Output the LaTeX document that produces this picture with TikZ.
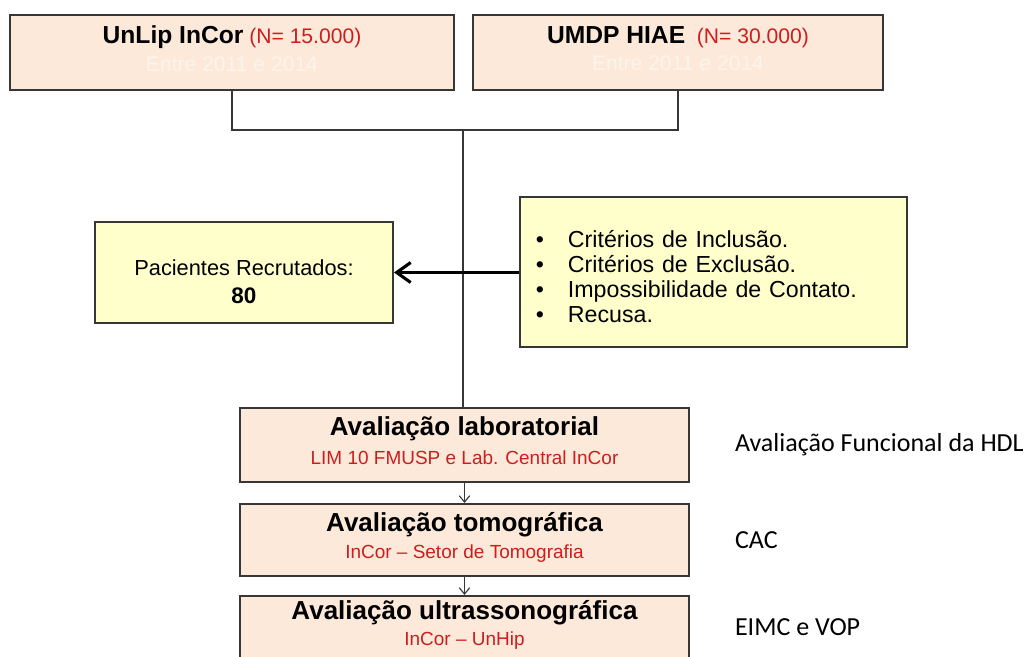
\documentclass[tikz,border=0pt]{standalone}
\usepackage{fontspec}
\setmainfont{Liberation Sans}
\newfontfamily\calib{Carlito}
\usetikzlibrary{positioning, arrows.meta}
\definecolor{peach}{RGB}{252,233,218}
\definecolor{paleyellow}{RGB}{255,255,204}
\definecolor{darkred}{RGB}{204,30,30}
\definecolor{edge}{RGB}{55,55,55}

\begin{document}
\begin{tikzpicture}[
  x=0.025cm, y=-0.025cm,
  srcbox/.style={draw=edge, line width=1.4pt, fill=peach, minimum height=1.875cm, align=center, inner sep=0pt,
    text depth=0.2cm, font=\fontsize{15}{19.5}\selectfont},
  stepbox/.style={draw=edge, line width=1.4pt, fill=peach, minimum width=11.225cm, minimum height=1.85cm, align=center, inner sep=0pt,
    text depth=0.22cm, font=\fontsize{13.5}{20}\selectfont},
  yelbox/.style={draw=edge, line width=1.4pt, fill=paleyellow},
  conn/.style={draw=edge, line width=1.3pt},
  side/.style={font=\calib\fontsize{18.5}{22}\selectfont, anchor=west}
]
\useasboundingbox (0,0) rectangle (1027,657);

% Sources
\node[srcbox, minimum width=11.1cm] (unlip) at (232,52.5) {
  {\fontsize{17.5}{20}\selectfont\bfseries UnLip InCor}\ {\color{darkred}(N= 15.000)}\\
  {\color{peach!50!white}Entre 2011 e 2014}
};
\node[srcbox, minimum width=10.25cm] (umdp) at (678,52.5) {
  {\fontsize{17.5}{20}\selectfont\bfseries UMDP HIAE}\ \ {\color{darkred}(N= 30.000)}\\
  {\color{peach!50!white}Entre 2011 e 2014}
};
\coordinate (jn) at (463,130);

% Recruitment
\node[yelbox, minimum width=7.45cm, minimum height=2.525cm, align=center, text height=1.565cm,
  font=\fontsize{15.5}{20}\selectfont] (pac) at (244,272.5) {
  Pacientes Recrutados:\\
  {\fontsize{16}{20}\selectfont\bfseries 80}
};
\node[yelbox, minimum width=9.675cm, minimum height=3.75cm, text width=8.875cm, inner xsep=0.4cm, align=left,
  text height=0.65cm, font=\fontsize{16.5}{17.6}\selectfont] (crit) at (713.5,272) {
  \makebox[0.8cm][l]{\textbullet}Critérios de Inclusão.\\
  \makebox[0.8cm][l]{\textbullet}Critérios de Exclusão.\\
  \makebox[0.8cm][l]{\textbullet}Impossibilidade de Contato.\\
  \makebox[0.8cm][l]{\textbullet}Recusa.
};

% Evaluation steps
\node[stepbox] (lab) at (464.5,445) {
  {\fontsize{18.5}{22}\selectfont\bfseries Avaliação laboratorial}\\
  {\color{darkred}LIM 10 FMUSP e Lab. Central InCor}
};
\node[stepbox, minimum height=1.8cm, font=\fontsize{13.5}{19}\selectfont, below=0.5cm of lab] (tomo) {
  {\fontsize{18.5}{22}\selectfont\bfseries Avaliação tomográfica}\\
  {\color{darkred}InCor -- Setor de Tomografia}
};
\node[stepbox, text depth=0.5cm, font=\fontsize{13.5}{19}\selectfont, below=0.45cm of tomo] (ultra) {
  {\fontsize{18.5}{22}\selectfont\bfseries Avaliação ultrassonográfica}\\
  {\color{darkred}InCor -- UnHip}
};

% Side labels
\node[side, right=1cm of lab] (hdl) {Avaliação Funcional da HDL};
\node[side, right=1cm of tomo] (cac) {CAC};
\node[side, right=1cm of ultra, yshift=0.15cm] (eimc) {EIMC e VOP};

% Connectors
\draw[conn] (unlip.south) |- (jn) -| (umdp.south);
\draw[conn] (jn) -- (jn |- lab.north);
\draw[draw=black, line width=2.2pt, -{Straight Barb[length=3.5mm, width=5mm]}] (crit.west |- pac.east) -- (pac.east);
\draw[conn, line width=0.8pt, -{Straight Barb[length=1.6mm, width=2.6mm]}] (lab) -- (tomo);
\draw[conn, line width=0.8pt, -{Straight Barb[length=1.6mm, width=2.6mm]}] (tomo) -- (ultra);

\end{tikzpicture}
\end{document}
